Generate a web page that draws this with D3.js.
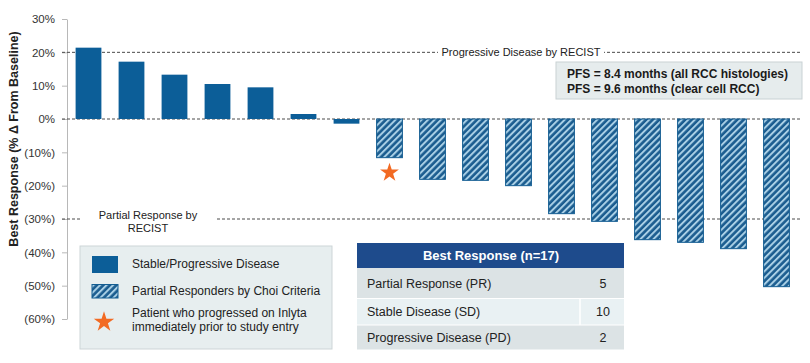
<!DOCTYPE html>
<meta charset="utf-8">
<style>
body { margin: 0; background: #fff; }
svg { font-family: Arial, "Liberation Sans", sans-serif; }
.axis text { font-size: 11.5px; fill: #333; }
.axis path, .axis line { stroke: #b8b8b8; }
</style>
<body>
<script src="https://d3js.org/d3.v7.min.js"></script>
<script>

// data
var patients = d3.range(1, 18).map(String);
var bestResponse = [21.4, 17.2, 13.3, 10.5, 9.5, 1.5, -1.4, -11.6, -18.1, -18.4, -20.0, -28.4, -30.7, -36.2, -37.0, -38.9, -50.3];
var choiResponder = [0, 0, 0, 0, 0, 0, 0, 1, 1, 1, 1, 1, 1, 1, 1, 1, 1];
var starPatient = "8";
var yTicks = [30, 20, 10, 0, -10, -20, -30, -40, -50, -60];
var refLines = [20, 0, -30];
var legendLabels = [["Stable/Progressive Disease"], ["Partial Responders by Choi Criteria"], ["Patient who progressed on Inlyta", "immediately prior to study entry"]];
var tableTitle = "Best Response (n=17)";
var tableRows = ["Partial Response (PR)", "Stable Disease (SD)", "Progressive Disease (PD)"];
var tableCounts = [5, 10, 2];
var pfsLines = ["PFS = 8.4 months (all RCC histologies)", "PFS = 9.6 months (clear cell RCC)"];

var W = 810, H = 363;
var blue = "#0c5e98";

var svg = d3.select("body").append("svg")
    .attr("width", W)
    .attr("height", H);

// hatch pattern
var hp = 4.6;
var defs = svg.append("defs");
defs.append("pattern")
    .attr("id", "hatch")
    .attr("patternUnits", "userSpaceOnUse")
    .attr("width", hp).attr("height", hp)
    .attr("patternTransform", "rotate(45)")
  .call(function(p) {
    p.append("rect").attr("width", hp).attr("height", hp).attr("fill", "#1a5c8f");
    p.append("rect").attr("x", 0).attr("width", 2).attr("height", hp).attr("fill", "#a9cfe5");
  });

// scales
var x = d3.scaleBand().domain(patients).range([67, 798]).paddingInner(0.4).paddingOuter(0.2);
var y = d3.scaleLinear().domain([-60, 30]).range([319, 19]);

// y axis
svg.append("g")
    .attr("class", "axis")
    .attr("transform", "translate(67,0)")
    .call(d3.axisLeft(y)
        .tickValues(yTicks)
        .tickSize(5)
        .tickSizeOuter(0)
        .tickPadding(7)
        .tickFormat(function(d) { return d < 0 ? "(" + (-d) + "%)" : d + "%"; }));

svg.append("text")
    .attr("transform", "translate(18,139) rotate(-90)")
    .attr("text-anchor", "middle")
    .style("font-size", "12.5px")
    .style("font-weight", "bold")
    .style("fill", "#222")
    .text("Best Response (% \u0394 From Baseline)");

// dashed reference lines
svg.selectAll(".ref")
    .data(refLines)
  .enter().append("line")
    .attr("class", "ref")
    .attr("x1", 62).attr("x2", 802)
    .attr("y1", function(d) { return y(d); })
    .attr("y2", function(d) { return y(d); })
    .attr("stroke", "#4a4a4a")
    .attr("stroke-width", 1)
    .attr("stroke-dasharray", "3,2");

// label gaps in the dashed lines
svg.append("rect").attr("x", 438).attr("y", y(20) - 4).attr("width", 166).attr("height", 8).attr("fill", "#fff");
svg.append("text")
    .attr("x", 521).attr("y", y(20) + 4)
    .attr("text-anchor", "middle")
    .style("font-size", "11px").style("fill", "#222")
    .text("Progressive Disease by RECIST");

svg.append("rect").attr("x", 81).attr("y", y(-30) - 4).attr("width", 135).attr("height", 8).attr("fill", "#fff");
svg.append("text")
    .attr("x", 148).attr("y", 219)
    .attr("text-anchor", "middle")
    .style("font-size", "11px").style("fill", "#222")
  .call(function(t) {
    t.append("tspan").attr("x", 148).attr("dy", 0).text("Partial Response by");
    t.append("tspan").attr("x", 148).attr("dy", 12.5).text("RECIST");
  });

// bars
svg.selectAll(".bar")
    .data(patients)
  .enter().append("rect")
    .attr("class", "bar")
    .attr("x", function(d) { return x(d); })
    .attr("width", x.bandwidth())
    .attr("y", function(d, i) { return y(Math.max(0, bestResponse[i])); })
    .attr("height", function(d, i) { return Math.abs(y(bestResponse[i]) - y(0)); })
    .attr("fill", function(d, i) { return choiResponder[i] ? "url(#hatch)" : blue; })
    .attr("stroke", function(d, i) { return choiResponder[i] ? "#135d92" : "none"; })
    .attr("stroke-width", 1);

// star
var star = d3.symbol().type(d3.symbolStar).size(110);
var si = patients.indexOf(starPatient);
svg.append("path")
    .attr("d", star)
    .attr("transform", "translate(" + (x(starPatient) + x.bandwidth() / 2) + "," + (y(bestResponse[si]) + 15) + ")")
    .attr("fill", "#f26a23");

// PFS box
var pfs = svg.append("g");
pfs.append("rect")
    .attr("x", 556).attr("y", 62).attr("width", 246).attr("height", 37)
    .attr("fill", "#e6eced").attr("stroke", "#c9d2d4");
pfs.selectAll("text")
    .data(pfsLines)
  .enter().append("text")
    .attr("x", 567)
    .attr("y", function(d, i) { return 78 + i * 15; })
    .style("font-size", "12px").style("font-weight", "bold").style("fill", "#1a1a1a")
    .text(function(d) { return d; });

// legend
var lg = svg.append("g");
lg.append("rect")
    .attr("x", 80).attr("y", 246).attr("width", 252).attr("height", 103)
    .attr("fill", "#e7eeef").attr("stroke", "#cdd5d7");
lg.append("rect").attr("x", 92).attr("y", 256).attr("width", 26).attr("height", 17).attr("fill", blue);
lg.append("rect").attr("x", 92).attr("y", 284.5).attr("width", 26).attr("height", 13.5)
    .attr("fill", "url(#hatch)").attr("stroke", "#135d92");
lg.append("path")
    .attr("d", d3.symbol().type(d3.symbolStar).size(130))
    .attr("transform", "translate(104,322)")
    .attr("fill", "#f26a23");
var legendY = [267.5, 294.5, 317];
lg.selectAll(".lgtext")
    .data(legendLabels)
  .enter().append("text")
    .attr("class", "lgtext")
    .attr("y", function(d, i) { return legendY[i]; })
    .style("font-size", "12px").style("fill", "#222")
  .each(function(d) {
    var t = d3.select(this);
    d.forEach(function(line, j) {
      t.append("tspan").attr("x", 132).attr("dy", j ? 14 : 0).text(line);
    });
  });

// table
var tb = svg.append("g");
tb.append("rect").attr("x", 357).attr("y", 243).attr("width", 267).attr("height", 25).attr("fill", "#1e4b8c");
tb.append("text")
    .attr("x", 491).attr("y", 259.5)
    .attr("text-anchor", "middle")
    .style("font-size", "13px").style("font-weight", "bold").style("fill", "#fff")
    .text(tableTitle);
var rowTop = [268, 298.5, 325];
var rowH = [30.5, 26.5, 24.5];
var rowFill = ["#dce3e5", "#e9f1f3", "#dce3e5"];
tableRows.forEach(function(r, i) {
  tb.append("rect").attr("x", 357).attr("y", rowTop[i]).attr("width", 267).attr("height", rowH[i]).attr("fill", rowFill[i]);
  tb.append("text")
    .attr("x", 367).attr("y", rowTop[i] + rowH[i] / 2 + 4.5)
    .style("font-size", "12.5px").style("fill", "#222")
    .text(r);
  tb.append("text")
    .attr("x", 603).attr("y", rowTop[i] + rowH[i] / 2 + 4.5)
    .attr("text-anchor", "middle")
    .style("font-size", "12.5px").style("fill", "#222")
    .text(tableCounts[i]);
});
tb.append("line").attr("x1", 580).attr("x2", 580).attr("y1", 298.5).attr("y2", 325).attr("stroke", "#fff").attr("stroke-width", 1.5);
tb.append("line").attr("x1", 357).attr("x2", 624).attr("y1", 298.5).attr("y2", 298.5).attr("stroke", "#fff").attr("stroke-width", 1);
tb.append("line").attr("x1", 357).attr("x2", 624).attr("y1", 325).attr("y2", 325).attr("stroke", "#fff").attr("stroke-width", 1);

</script>
</body>
